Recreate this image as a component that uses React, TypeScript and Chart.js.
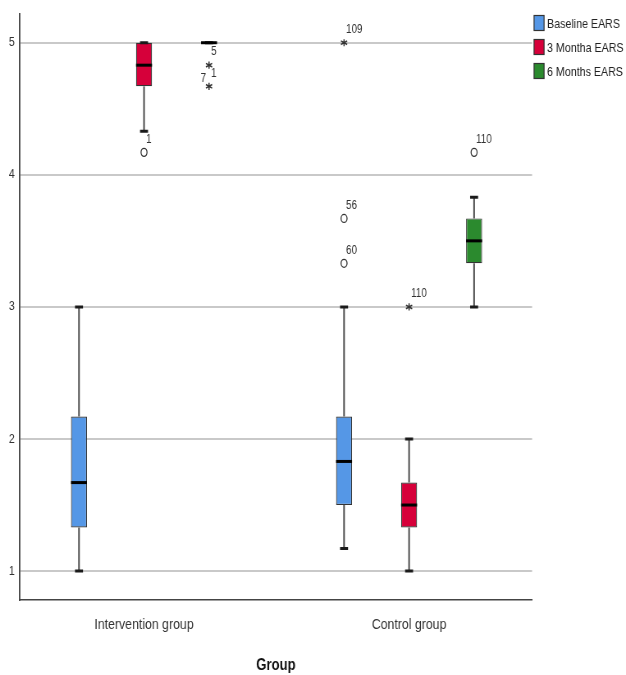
import { useEffect, useRef } from 'react';
import { Chart, registerables } from 'chart.js';

Chart.register(...registerables);

// The chart is drawn on a wider canvas that is displayed squeezed horizontally,
// which reproduces the narrow look of the original figure.
const VIEW_W = 626;
const VIEW_H = 675;
const CANVAS_W = 763;
const SX = VIEW_W / CANVAS_W;
const FONT = "'Liberation Sans', Arial, sans-serif";

const groups = ['Intervention group', 'Control group'];
const seriesNames = ['Baseline EARS', '3 Montha EARS', '6 Months EARS'];
const seriesColors = ['#5597e6', '#d6003a', '#2b8a2e'];

// five-number summaries per group: [min, q1, median, q3, max]
const baselineStats = [
  [1, 1.33, 1.67, 2.17, 3],
  [1.17, 1.5, 1.83, 2.17, 3],
];
const month3Stats = [
  [4.33, 4.67, 4.83, 5, 5],
  [1, 1.33, 1.5, 1.67, 2],
];
const month6Stats = [
  [5, 5, 5, 5, 5],
  [3, 3.33, 3.5, 3.67, 3.83],
];

// outliers per group: [value, marker, case label, extra label on the left]
const baselineOutliers: any[][] = [
  [],
  [[3.33, 'o', '60'], [3.67, 'o', '56'], [5, '*', '109']],
];
const month3Outliers: any[][] = [
  [[4.17, 'o', '1']],
  [[3, '*', '110']],
];
const month6Outliers: any[][] = [
  [[4.83, '*', '5'], [4.67, '*', '1', '7']],
  [[4.17, 'o', '110']],
];

const yTicks = [1, 2, 3, 4, 5];

const allStats = [baselineStats, month3Stats, month6Stats];
const allOutliers = [baselineOutliers, month3Outliers, month6Outliers];

const boxPlugin = {
  id: 'boxExtras',
  afterDatasetsDraw(chart: any) {
    const ctx = chart.ctx as CanvasRenderingContext2D;
    const ys = chart.scales.y;
    ctx.save();
    allStats.forEach((stats, di) => {
      const meta = chart.getDatasetMeta(di);
      meta.data.forEach((bar: any, i: number) => {
        const [mn, q1, md, q3, mx] = stats[i];
        const cx = bar.x;
        const w = bar.width;
        const pMin = ys.getPixelForValue(mn);
        const pQ1 = ys.getPixelForValue(q1);
        const pMd = ys.getPixelForValue(md);
        const pQ3 = ys.getPixelForValue(q3);
        const pMax = ys.getPixelForValue(mx);
        // whiskers
        ctx.strokeStyle = '#4a4a4a';
        ctx.lineWidth = 1.6 / SX;
        ctx.beginPath();
        ctx.moveTo(cx, pQ1);
        ctx.lineTo(cx, pMin);
        ctx.moveTo(cx, pQ3);
        ctx.lineTo(cx, pMax);
        ctx.stroke();
        // caps
        const cw = 4 / SX;
        ctx.strokeStyle = '#1a1a1a';
        ctx.lineWidth = 3;
        ctx.beginPath();
        ctx.moveTo(cx - cw, pMin);
        ctx.lineTo(cx + cw, pMin);
        ctx.moveTo(cx - cw, pMax);
        ctx.lineTo(cx + cw, pMax);
        ctx.stroke();
        // median
        ctx.strokeStyle = '#000';
        ctx.lineWidth = 3;
        ctx.beginPath();
        ctx.moveTo(cx - w / 2, pMd);
        ctx.lineTo(cx + w / 2, pMd);
        ctx.stroke();
        // outliers
        const outs = allOutliers[di][i] || [];
        outs.forEach((o: any[]) => {
          const [v, marker, label, leftLabel] = o;
          const py = ys.getPixelForValue(v);
          ctx.strokeStyle = '#333';
          if (marker === 'o') {
            ctx.lineWidth = 1.3;
            ctx.beginPath();
            ctx.ellipse(cx, py, 3 / SX, 4, 0, 0, Math.PI * 2);
            ctx.stroke();
          } else {
            ctx.lineWidth = 1.5;
            ctx.beginPath();
            for (let k = 0; k < 3; k++) {
              const a = Math.PI / 2 + (k * Math.PI) / 3;
              const dx = (Math.cos(a) * 3.6) / SX;
              const dy = Math.sin(a) * 3.6;
              ctx.moveTo(cx + dx, py - dy);
              ctx.lineTo(cx - dx, py + dy);
            }
            ctx.stroke();
          }
          ctx.fillStyle = '#333';
          ctx.font = `12px ${FONT}`;
          ctx.textBaseline = 'middle';
          ctx.textAlign = 'left';
          ctx.fillText(label, cx + 2 / SX, py - 13);
          if (leftLabel) {
            ctx.textAlign = 'right';
            ctx.fillText(leftLabel, cx - 3 / SX, py - 8);
          }
        });
      });
    });
    ctx.restore();
  },
};

const legendPlugin = {
  id: 'sideLegend',
  afterDraw(chart: any) {
    const ctx = chart.ctx as CanvasRenderingContext2D;
    const x0 = chart.chartArea.right + 2 / SX;
    const bw = 10 / SX;
    ctx.save();
    chart.data.datasets.forEach((ds: any, i: number) => {
      const top = 15 + i * 24;
      ctx.fillStyle = ds.backgroundColor;
      ctx.fillRect(x0, top + 0.5, bw, 15);
      ctx.strokeStyle = '#333';
      ctx.lineWidth = 1.2;
      ctx.strokeRect(x0, top + 0.5, bw, 15);
      ctx.fillStyle = '#222';
      ctx.font = `13px ${FONT}`;
      ctx.textBaseline = 'middle';
      ctx.textAlign = 'left';
      ctx.fillText(ds.label, x0 + 13 / SX, top + 9);
    });
    ctx.restore();
  },
};

export default function App() {
  const ref = useRef<HTMLCanvasElement>(null);
  useEffect(() => {
    document.body.style.margin = '0';
    if (!ref.current) return;
    const chart = new Chart(ref.current, {
      type: 'bar',
      data: {
        datasets: allStats.map((stats, di) => ({
          label: seriesNames[di],
          data: stats.map((s, i) => ({ x: i, y: [s[1], s[3]] })),
          backgroundColor: seriesColors[di],
          borderColor: '#333',
          borderWidth: 1.2,
          borderSkipped: false,
          barPercentage: 0.246,
          categoryPercentage: 0.736,
        })) as any,
      },
      options: {
        responsive: false,
        animation: false,
        devicePixelRatio: 1,
        layout: { padding: { top: 12, right: 114.5, left: 0, bottom: 0 } },
        plugins: { legend: { display: false }, tooltip: { enabled: false } },
        scales: {
          x: {
            type: 'linear',
            offset: false,
            min: -0.469,
            max: 1.464,
            afterBuildTicks: (axis: any) => {
              axis.ticks = [0, 1].map((v) => ({ value: v }));
            },
            afterFit: (axis: any) => {
              axis.height = 75;
            },
            grid: { display: false, drawTicks: false },
            border: { display: true, color: '#444', width: 1.5 },
            ticks: {
              padding: 16,
              color: '#333',
              font: { size: 15, family: FONT },
              callback: (v: any) => groups[v] ?? '',
              maxRotation: 0,
              autoSkip: false,
            },
            title: {
              display: true,
              text: 'Group',
              color: '#111',
              font: { size: 16, weight: 'bold', family: FONT },
              padding: { top: 0, bottom: 0 },
            },
          },
          y: {
            min: 0.781,
            max: 5.219,
            afterBuildTicks: (axis: any) => {
              axis.ticks = yTicks.map((v) => ({ value: v }));
            },
            afterFit: (axis: any) => {
              axis.width = 24;
            },
            grid: { color: '#c9c9c9', lineWidth: 2, drawTicks: false },
            border: { display: true, color: '#444', width: 1.8 },
            ticks: {
              padding: 6,
              color: '#333',
              font: { size: 13, family: FONT },
            },
          },
        },
      },
      plugins: [boxPlugin, legendPlugin],
    });
    return () => chart.destroy();
  }, []);
  return (
    <div style={{ width: VIEW_W, height: VIEW_H }}>
      <canvas
        ref={ref}
        width={CANVAS_W}
        height={VIEW_H}
        style={{ display: 'block', width: VIEW_W + 'px', height: VIEW_H + 'px' }}
      />
    </div>
  );
}
